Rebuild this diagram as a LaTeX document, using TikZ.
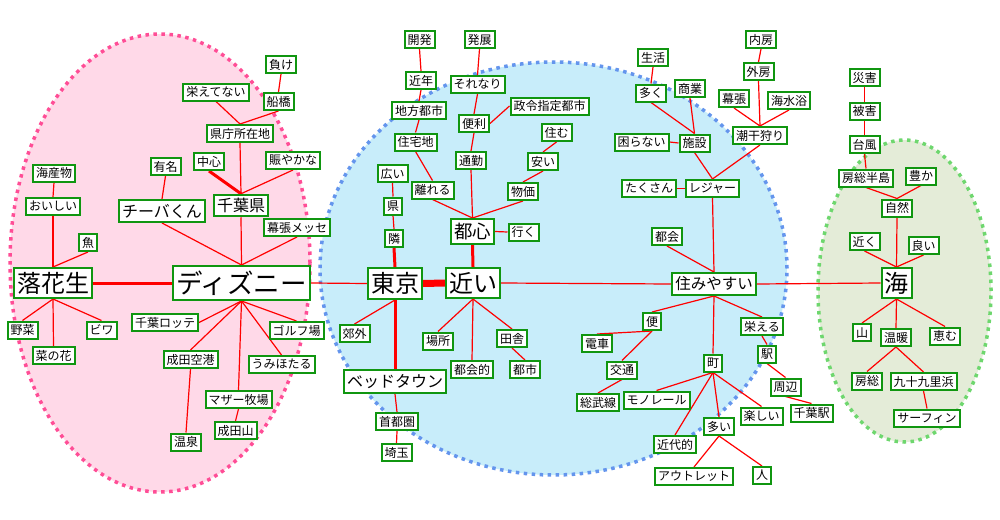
\documentclass[tikz,border=0pt]{standalone}
\usepackage{fontspec}
\setmainfont{Noto Sans CJK JP}
\usepackage{xcolor}
\usepackage{tikz}

\definecolor{boxgreen}{RGB}{16,150,16}
\definecolor{pinkfill}{RGB}{255,217,232}
\definecolor{pinkdot}{RGB}{255,77,150}
\definecolor{bluefill}{RGB}{200,237,250}
\definecolor{bluedot}{RGB}{100,149,237}
\definecolor{greenfill}{RGB}{228,236,216}
\definecolor{greendot}{RGB}{110,215,110}

\pgfdeclarelayer{back}
\pgfsetlayers{back,main}

\tikzset{
  word/.style={draw=boxgreen, line width=2pt, fill=white, inner xsep=3pt, inner ysep=0pt,
    minimum height=17pt, font=\fontsize{12}{12}\selectfont},
  bigword/.style 2 args={word, minimum height=#2, font=\fontsize{#1}{#1}\selectfont},
  link/.style={red, line width=1.2pt},
  boldlink/.style={red, line width=3pt},
  area/.style={line width=3.5pt, dash pattern=on 3.5pt off 4.5pt}
}

\begin{document}
\begin{tikzpicture}[x=1pt, y=-1pt]
    \useasboundingbox (0,0) rectangle (1000,519);
    \begin{pgfonlayer}{back}
        \fill[white] (0,0) rectangle (1000,519);
        \draw[area, draw=pinkdot, fill=pinkfill] (160,263) ellipse [x radius=150pt, y radius=229pt];
        \draw[area, draw=bluedot, fill=bluefill] (553.5,268.5) ellipse [x radius=233.5pt, y radius=206.5pt];
        \draw[area, draw=greendot, fill=greenfill] (904.5,291) ellipse [x radius=86.5pt, y radius=151pt];
    \end{pgfonlayer}

    % pink area
    \node[word] (kaisan) at (54,173) {海産物};
    \node[word] (oishii) at (53,206.5) {おいしい};
    \node[word] (sakana) at (88,242.5) {魚};
    \node[bigword={24}{30pt}] (rakka) at (53,283) {落花生};
    \node[word] (yasai) at (22.5,330) {野菜};
    \node[word] (biwa) at (101.5,330) {ビワ};
    \node[word] (nanohana) at (53.5,355.5) {菜の花};
    \node[word] (make) at (281,64.5) {負け};
    \node[word] (sakaenai) at (216,92) {栄えてない};
    \node[word] (funabashi) at (278.5,101.5) {船橋};
    \node[word] (kencho) at (240,133.5) {県庁所在地};
    \node[word] (yumei) at (165.5,166.5) {有名};
    \node[word] (chushin) at (209,161.5) {中心};
    \node[word] (nigiyaka) at (293,160.5) {賑やかな};
    \node[bigword={16}{22pt}] (chiiba) at (162,211) {チーバくん};
    \node[bigword={16}{21.5pt}] (chibaken) at (241,205.5) {千葉県};
    \node[word] (makuhari) at (297,227.5) {幕張メッセ};
    \node[bigword={26.5}{34pt}] (disney) at (241.5,283) {ディズニー};
    \node[word] (lotte) at (165,322.5) {千葉ロッテ};
    \node[word] (golf) at (296.5,330.5) {ゴルフ場};
    \node[word] (narita) at (190.5,359.5) {成田空港};
    \node[word] (umihotaru) at (281.5,364.5) {うみほたる};
    \node[word] (mother) at (238.5,399.5) {マザー牧場};
    \node[word] (naritasan) at (235.5,430.5) {成田山};
    \node[word] (onsen) at (186,442) {温泉};

    % blue area
    \node[bigword={24}{31pt}] (tokyo) at (395,283.5) {東京};
    \node[bigword={24}{30pt}] (chikai) at (473,283) {近い};
    \node[word] (hiroi) at (392.5,173.5) {広い};
    \node[word] (ken) at (393,206) {県};
    \node[word] (tonari) at (394,238.5) {隣};
    \node[word] (kogai) at (354.5,333.5) {郊外};
    \node[bigword={16}{23pt}] (bed) at (395,381.5) {ベッドタウン};
    \node[word] (shutoken) at (397,421.5) {首都圏};
    \node[word] (saitama) at (396.5,452.5) {埼玉};
    \node[word] (basho) at (438,341) {場所};
    \node[word] (tokaiteki) at (472,369.5) {都会的};
    \node[word] (inaka) at (512,338.5) {田舎};
    \node[word] (toshi) at (525,369.5) {都市};
    \node[bigword={18.5}{25pt}] (toshin) at (472.5,231.5) {都心};
    \node[word] (iku) at (523.5,232) {行く};
    \node[word] (hanareru) at (432.5,190) {離れる};
    \node[word] (bukka) at (523,191.5) {物価};
    \node[word] (tsukin) at (471,160.5) {通勤};
    \node[word] (yasui) at (543,161.5) {安い};
    \node[word] (sumu) at (556.5,132.5) {住む};
    \node[word] (jutaku) at (415.5,142) {住宅地};
    \node[word] (benri) at (474,123.5) {便利};
    \node[word] (seirei) at (549.5,106) {政令指定都市};
    \node[word] (chiho) at (419,110.5) {地方都市};
    \node[word] (kinnen) at (421,80.5) {近年};
    \node[word] (sorenari) at (477.5,84.5) {それなり};
    \node[word] (kaihatsu) at (419.5,39.5) {開発};
    \node[word] (hatten) at (479.5,39.5) {発展};

    \node[bigword={15.5}{22pt}] (sumiyasui) at (714,284) {住みやすい};
    \node[word] (tokai) at (667,236.5) {都会};
    \node[word] (leisure) at (712.5,188.5) {レジャー};
    \node[word] (takusan) at (649,188.5) {たくさん};
    \node[word] (shisetsu) at (694.5,143) {施設};
    \node[word] (komaranai) at (641.5,142) {困らない};
    \node[word] (ooku) at (651,93) {多く};
    \node[word] (seikatsu) at (653,57.5) {生活};
    \node[word] (shogyo) at (690,88.5) {商業};
    \node[word] (shiohigari) at (760,135.5) {潮干狩り};
    \node[word] (makuhari2) at (734,98.5) {幕張};
    \node[word] (kaisuiyoku) at (789,100.5) {海水浴};
    \node[word] (sotobo) at (758.5,71.5) {外房};
    \node[word] (uchibo) at (761,39.5) {内房};
    \node[word] (bin) at (652,321.5) {便};
    \node[word] (densha) at (597,343.5) {電車};
    \node[word] (kotsu) at (622,370) {交通};
    \node[word] (sobu) at (598,402.5) {総武線};
    \node[word] (machi) at (713,363) {町};
    \node[word] (monorail) at (656.5,400) {モノレール};
    \node[word] (kindai) at (675,444.5) {近代的};
    \node[word] (ooi) at (719,426.5) {多い};
    \node[word] (outlet) at (694,476.5) {アウトレット};
    \node[word] (hito) at (762,475.5) {人};
    \node[word] (tanoshii) at (761.5,416) {楽しい};
    \node[word] (sakaeru) at (762,326.5) {栄える};
    \node[word] (eki) at (767,354) {駅};
    \node[word] (shuhen) at (785.5,387) {周辺};
    \node[word] (chibaeki) at (811.5,413) {千葉駅};

    % green area
    \node[bigword={24}{30pt}] (umi) at (896.5,283) {海};
    \node[word] (saigai) at (864.5,77.5) {災害};
    \node[word] (higai) at (864.5,111) {被害};
    \node[word] (taifu) at (864.5,144.5) {台風};
    \node[word] (boso) at (866,178) {房総半島};
    \node[word] (yutaka) at (921,176) {豊か};
    \node[word] (shizen) at (897,208) {自然};
    \node[word] (chikaku) at (864.5,241.5) {近く};
    \node[word] (yoi) at (923.5,245.5) {良い};
    \node[word] (yama) at (862,332.5) {山};
    \node[word] (ondan) at (896,337.5) {温暖};
    \node[word] (megumu) at (945,336) {恵む};
    \node[word] (boso2) at (867,381) {房総};
    \node[word] (kujukuri) at (923.5,381.5) {九十九里浜};
    \node[word] (surfin) at (927,418) {サーフィン};

    \begin{pgfonlayer}{back}
        % upper.south -- lower.north
        \foreach \u/\l in {kaisan/oishii, oishii/rakka, sakana/rakka, rakka/yasai, rakka/biwa,
            rakka/nanohana, make/funabashi, sakaenai/kencho, funabashi/kencho, kencho/chibaken,
            nigiyaka/chibaken, yumei/chiiba, chiiba/disney, chibaken/disney, makuhari/disney,
            disney/golf, disney/narita, disney/umihotaru, disney/mother, narita/onsen,
            mother/naritasan,
            hiroi/ken, ken/tonari, tokyo/kogai, bed/shutoken, shutoken/saitama,
            chikai/basho, chikai/tokaiteki, chikai/inaka, inaka/toshi,
            hanareru/toshin, tsukin/toshin, bukka/toshin, jutaku/hanareru, chiho/jutaku,
            kinnen/chiho, kaihatsu/kinnen, yasui/bukka, sumu/yasui, benri/tsukin,
            sorenari/benri, hatten/sorenari,
            tokai/sumiyasui, leisure/sumiyasui, shisetsu/leisure, shiohigari/leisure,
            ooku/shisetsu, shogyo/shisetsu, seikatsu/ooku, makuhari2/shiohigari,
            kaisuiyoku/shiohigari, sotobo/shiohigari, uchibo/sotobo,
            sumiyasui/bin, sumiyasui/machi, sumiyasui/sakaeru, bin/densha, bin/kotsu,
            kotsu/sobu, machi/monorail, machi/kindai, machi/ooi, machi/tanoshii,
            ooi/outlet, ooi/hito, sakaeru/eki, eki/shuhen, shuhen/chibaeki,
            saigai/higai, higai/taifu, taifu/boso, boso/shizen, yutaka/shizen,
            shizen/umi, chikaku/umi, yoi/umi, umi/yama, umi/ondan, umi/megumu,
            ondan/boso2, ondan/kujukuri, kujukuri/surfin}
            \draw[link] (\u.south) -- (\l.north);
        \foreach \u/\l in {chushin/chibaken, tonari/tokyo, tokyo/bed, toshin/chikai}
            \draw[boldlink] (\u.south) -- (\l.north);
        % left.east -- right.west
        \foreach \a/\b in {disney/tokyo, chikai/sumiyasui, sumiyasui/umi, toshin/iku,
            komaranai/shisetsu, takusan/leisure}
            \draw[link] (\a.east) -- (\b.west);
        \draw[link] (disney.south) -- (lotte.east);
        \draw[link] (seirei.west) -- (benri.east);
        \draw[boldlink] (rakka.east) -- (disney.west);
        \draw[red, line width=7pt] (tokyo.east) -- (chikai.west);
    \end{pgfonlayer}
\end{tikzpicture}
\end{document}
